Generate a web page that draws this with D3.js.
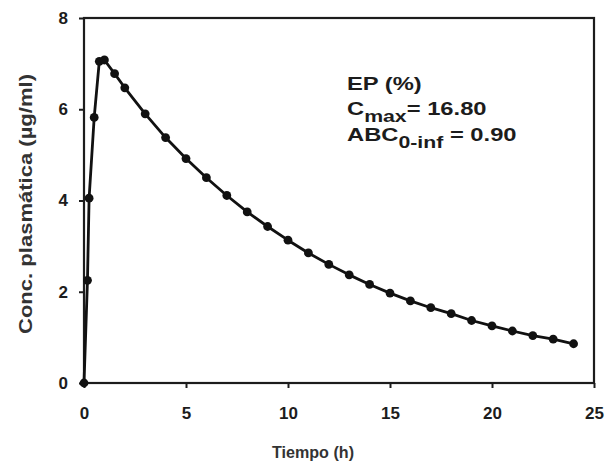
<!DOCTYPE html>
<html>
<head>
<meta charset="utf-8">
<script src="https://cdn.jsdelivr.net/npm/d3@7"></script>
<style>
  html, body { margin: 0; padding: 0; background: #fff; }
  svg { display: block; }
  text { font-family: "Liberation Sans", Arial, sans-serif; font-weight: bold; }
</style>
</head>
<body>
<svg id="chart" width="610" height="472"></svg>
<script>
// ---- data ----
const times = [0, 0.17, 0.25, 0.5, 0.75, 1, 1.5, 2, 3, 4, 5, 6, 7, 8, 9, 10, 11, 12,
               13, 14, 15, 16, 17, 18, 19, 20, 21, 22, 23, 24];
const conc = [0, 2.25, 4.05, 5.82, 7.05, 7.08, 6.78, 6.47, 5.9, 5.38, 4.92, 4.5, 4.11,
              3.75, 3.43, 3.13, 2.85, 2.6, 2.37, 2.16, 1.97, 1.8, 1.65, 1.52, 1.37,
              1.25, 1.14, 1.04, 0.96, 0.86];
const xTicks = [0, 5, 10, 15, 20, 25];
const yTicks = [0, 2, 4, 6, 8];
const xTitle = "Tiempo (h)";
const yTitle = "Conc. plasmática (µg/ml)";
const annotation = [
  { main: "EP (%)", sub: "", rest: "" },
  { main: "C", sub: "max", rest: "= 16.80" },
  { main: "ABC", sub: "0-inf", rest: " = 0.90" }
];

const svg = d3.select("#chart");
const mLeft = 84, mRight = 594, mTop = 18, mBottom = 383;

const x = d3.scaleLinear().domain([0, 25]).range([mLeft, mRight]);
const y = d3.scaleLinear().domain([0, 8]).range([mBottom, mTop]);

const ink = "#1c1c1c";

// frame
svg.append("rect")
  .attr("x", mLeft).attr("y", mTop)
  .attr("width", mRight - mLeft).attr("height", mBottom - mTop)
  .attr("fill", "none").attr("stroke", ink).attr("stroke-width", 2.2);

// x axis
const xAxis = svg.append("g").attr("transform", `translate(0,${mBottom})`)
  .call(d3.axisBottom(x).tickValues(xTicks).tickSize(5).tickPadding(19).tickFormat(d3.format("d")));
xAxis.select(".domain").remove();
xAxis.selectAll("line").attr("stroke", ink).attr("stroke-width", 2);
xAxis.selectAll("text").attr("fill", ink).style("font-size", "17px").attr("font-family", null);

// y axis
const yAxis = svg.append("g").attr("transform", `translate(${mLeft},0)`)
  .call(d3.axisLeft(y).tickValues(yTicks).tickSize(5).tickPadding(11).tickFormat(d3.format("d")));
yAxis.select(".domain").remove();
yAxis.selectAll("line").attr("stroke", ink).attr("stroke-width", 2);
yAxis.selectAll("text").attr("fill", ink).style("font-size", "17px").attr("font-family", null);

// axis titles
svg.append("text")
  .attr("x", 313).attr("y", 458)
  .attr("text-anchor", "middle").attr("fill", "#333")
  .style("font-size", "16px")
  .attr("textLength", 82).attr("lengthAdjust", "spacingAndGlyphs")
  .text(xTitle);

svg.append("text")
  .attr("transform", "translate(32,204) rotate(-90)")
  .attr("text-anchor", "middle").attr("fill", "#333")
  .style("font-size", "18px")
  .attr("textLength", 260).attr("lengthAdjust", "spacingAndGlyphs")
  .text(yTitle);

// data
const pts = times.map((t, i) => [t, conc[i]]);
svg.append("path")
  .datum(pts)
  .attr("fill", "none").attr("stroke", "#111").attr("stroke-width", 2.8)
  .attr("stroke-linejoin", "round")
  .attr("d", d3.line().x(d => x(d[0])).y(d => y(d[1])));

svg.append("g").selectAll("circle").data(pts).join("circle")
  .attr("cx", d => x(d[0])).attr("cy", d => y(d[1])).attr("r", 4.4)
  .attr("fill", "#111");

// annotation (horizontally widened like the reference)
const annX = 347;
const ann = svg.append("g").attr("fill", ink)
  .attr("transform", `translate(${annX},0) scale(1.25,1)`);
annotation.forEach((a, i) => {
  const t = ann.append("text")
    .attr("x", 0).attr("y", 90 + i * 25.5)
    .style("font-size", "19px");
  t.append("tspan").text(a.main);
  if (a.sub) t.append("tspan").attr("dy", 7).style("font-size", "17px").text(a.sub);
  if (a.rest) t.append("tspan").attr("dy", -7).text(a.rest);
});
</script>
</body>
</html>
